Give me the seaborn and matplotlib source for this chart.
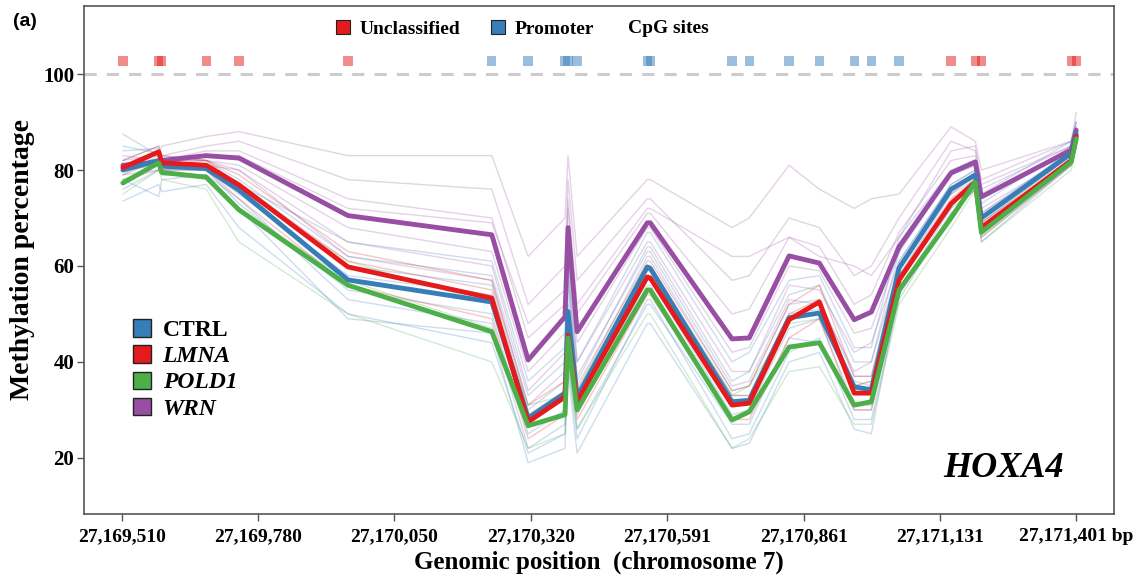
import numpy as np
import pandas as pd
import matplotlib
matplotlib.use("Agg")
import matplotlib.pyplot as plt
import seaborn as sns
from matplotlib.patches import Patch

#================================================================
# CpG sites of HOXA4 (bp, chromosome 7) and region of each site
#================================================================
sites = [27169512, 27169583, 27169589, 27169677, 27169742, 27169958,
         27170243, 27170315, 27170388, 27170394, 27170412, 27170551,
         27170557, 27170719, 27170753, 27170832, 27170892, 27170961,
         27170995, 27171050, 27171153, 27171201, 27171213, 27171391,
         27171401]
regions = ["Unclassified"] * 6 + ["Promoter"] * 14 + ["Unclassified"] * 5

# group means (thick lines)
mean_ctrl = [80.0, 82.0, 80.8, 80.3, 75.8, 57.1, 52.5, 28.3, 33.5, 50.5, 32.7, 59.8, 59.5,
             31.7, 32.0, 49.2, 50.2, 34.8, 34.2, 59.6, 76.0, 79.0, 70.0, 83.5, 87.5]
mean_lmna = [80.5, 83.8, 81.5, 81.0, 76.9, 59.8, 53.3, 27.5, 32.7, 45.5, 31.7, 57.7, 57.5,
             31.0, 31.4, 48.8, 52.5, 33.5, 33.5, 57.1, 73.0, 77.5, 68.0, 82.0, 87.0]
mean_pold1 = [77.3, 81.5, 79.5, 78.5, 71.7, 56.0, 46.3, 26.7, 29.0, 45.0, 30.0, 55.0, 55.0,
              27.9, 29.6, 43.1, 44.0, 31.0, 31.7, 55.0, 70.0, 77.5, 67.0, 81.7, 86.5]
mean_wrn = [81.0, 81.7, 82.0, 83.0, 82.5, 70.5, 66.5, 40.4, 49.4, 68.0, 46.3, 69.0, 69.0,
            44.8, 45.0, 62.1, 60.6, 48.8, 50.4, 64.0, 79.4, 81.7, 74.4, 84.2, 88.3]

# individual samples (thin lines)
ctrl_samples = [
    [87.5, 83, 81, 80, 73, 55, 50, 25, 30, 47, 29, 57, 57, 29, 30, 47, 49, 31, 31, 58, 75, 78, 69, 83, 87],
    [73.5, 77, 75.5, 77, 68, 50, 44, 21, 25, 40, 24, 53, 53, 24, 25, 42, 45, 28, 28, 53, 71, 76, 66, 81, 85],
    [84, 84.5, 83, 82, 78, 62, 58, 33, 40, 58, 36, 64, 64, 36, 38, 54, 56, 40, 40, 63, 79, 81, 73, 85, 89],
    [78, 74.5, 78, 79, 74, 53, 48, 22, 27, 44, 26, 52, 52, 27, 27, 45, 44, 30, 30, 57, 73, 77, 67, 82, 86],
    [82, 85, 82, 81, 77, 60, 56, 30, 36, 55, 34, 62, 62, 34, 35, 52, 53, 37, 37, 61, 77, 80, 71, 84, 88],
    [76, 80, 79, 79, 72, 49, 46, 19, 22, 38, 21, 48, 48, 22, 23, 40, 42, 26, 25, 55, 72, 76, 65, 81, 85],
    [80, 82, 80, 80, 75, 58, 54, 28, 33, 52, 33, 60, 60, 33, 33, 50, 51, 36, 35, 60, 76, 79, 70, 83, 87],
    [85, 83.5, 82, 81, 77, 65, 61, 36, 43, 60, 40, 67, 67, 40, 42, 57, 58, 43, 43, 66, 80, 82, 75, 86, 90],
]
wrn_samples = [
    [82, 83, 85, 87, 88, 83, 83, 62, 70, 83, 62, 78, 78, 68, 70, 81, 76, 72, 74, 75, 89, 86, 80, 86, 92],
    [80, 82, 83, 85, 86, 78, 76, 52, 60, 78, 57, 74, 74, 57, 58, 70, 68, 58, 60, 70, 86, 84, 78, 86, 90],
    [79, 80, 81, 82, 81, 68, 63, 38, 46, 66, 44, 68, 68, 42, 43, 60, 59, 46, 47, 63, 79, 81, 74, 84, 88],
    [81, 81, 82, 84, 84, 74, 70, 45, 52, 72, 50, 71, 71, 50, 51, 66, 64, 52, 54, 67, 82, 83, 76, 85, 89],
    [83, 82, 82, 82, 80, 65, 60, 34, 42, 62, 40, 65, 65, 38, 38, 56, 55, 42, 44, 61, 77, 80, 72, 83, 87],
    [80, 81, 82, 83, 83, 72, 69, 48, 55, 74, 52, 72, 72, 62, 62, 66, 62, 60, 58, 66, 84, 85, 77, 85, 90],
    [78, 80, 80, 81, 80, 62, 57, 31, 38, 58, 37, 63, 63, 35, 36, 53, 52, 38, 40, 60, 76, 79, 71, 83, 87],
]
lmna_samples = [
    [81, 84, 82, 82, 79, 63, 57, 31, 36, 50, 35, 61, 61, 34, 35, 52, 56, 37, 37, 60, 75, 79, 70, 83, 88],
    [79, 82, 80, 80, 74, 56, 49, 24, 29, 41, 28, 54, 54, 28, 28, 45, 49, 30, 30, 54, 71, 76, 66, 81, 86],
    [82, 85, 83, 82, 77, 61, 55, 29, 34, 46, 33, 59, 59, 33, 33, 50, 53, 35, 36, 58, 74, 78, 69, 82, 87],
]
pold1_samples = [
    [75, 80, 78, 76, 65, 50, 40, 22, 25, 40, 26, 50, 50, 22, 24, 38, 39, 27, 27, 52, 68, 76, 65, 80, 85],
    [79, 83, 81, 80, 76, 61, 52, 31, 33, 50, 34, 60, 60, 33, 35, 48, 49, 35, 36, 58, 72, 79, 69, 83, 88],
    [78, 81, 79, 79, 72, 57, 47, 27, 29, 44, 30, 56, 56, 28, 30, 43, 44, 31, 32, 55, 70, 77, 67, 82, 87],
]

groups = ["WRN", "CTRL", "LMNA", "POLD1"]
xticks = [27169510, 27169780, 27170050, 27170320, 27170591, 27170861, 27171131, 27171401]
xticklabels = ["27,169,510", "27,169,780", "27,170,050", "27,170,320", "27,170,591",
               "27,170,861", "27,171,131", "27,171,401 bp"]

colors = {"CTRL": "#377eb8", "LMNA": "#e41a1c", "POLD1": "#4daf4a", "WRN": "#984ea3"}
region_colors = {"Unclassified": "#e41a1c", "Promoter": "#377eb8"}

# long tables for seaborn
rows = []
for g, samples in zip(groups, [wrn_samples, ctrl_samples, lmna_samples, pold1_samples]):
    for i, vals in enumerate(samples):
        for pos, v in zip(sites, vals):
            rows.append((g, g + str(i), pos, v))
df_thin = pd.DataFrame(rows, columns=["group", "sample", "pos", "meth"])

rows = []
for g, vals in zip(groups, [mean_wrn, mean_ctrl, mean_lmna, mean_pold1]):
    for pos, v in zip(sites, vals):
        rows.append((g, pos, v))
df_mean = pd.DataFrame(rows, columns=["group", "pos", "meth"])

df_sites = pd.DataFrame({"pos": sites, "region": regions, "y": 102.7})

#================================================================
sns.set_style("white")
plt.rcParams["font.family"] = ["Liberation Serif", "DejaVu Serif"]
plt.rcParams["font.weight"] = "bold"
for k in ["text.color", "axes.labelcolor", "xtick.color", "ytick.color"]:
    plt.rcParams[k] = "black"

fig, ax = plt.subplots(figsize=(11.45, 5.8), dpi=100)
fig.subplots_adjust(left=0.0734, right=0.973, top=0.9897, bottom=0.1138)

sns.lineplot(data=df_thin, x="pos", y="meth", hue="group", units="sample", estimator=None,
             palette=colors, hue_order=groups, lw=1, alpha=0.25, legend=False, ax=ax, sort=False)
sns.lineplot(data=df_mean, x="pos", y="meth", hue="group", palette=colors, hue_order=groups,
             lw=3.5, legend=False, ax=ax, sort=False)

ax.axhline(100, color="#cccccc", lw=2.2, ls=(0, (4, 3.3)), zorder=0)
sns.scatterplot(data=df_sites, x="pos", y="y", hue="region", palette=region_colors, marker="s",
                s=45, alpha=0.5, edgecolor="none", legend=False, ax=ax)

ax.set_xlim(27169435, 27171476)
ax.set_ylim(8.3, 114.2)
ax.set_yticks([20, 40, 60, 80, 100])
ax.set_yticklabels(["20", "40", "60", "80", "100"], fontsize=15, fontweight="bold")
ax.set_xticks(xticks)
ax.set_xticklabels(xticklabels, fontsize=14, fontweight="bold")
ax.tick_params(axis="x", direction="out", length=5, width=1, color="#555555", pad=5, bottom=True)
ax.tick_params(axis="y", direction="out", length=5, width=1, color="#555555", pad=2, left=True)
for s in ax.spines.values():
    s.set_color("#555555")
    s.set_linewidth(1.2)

ax.set_xlabel("Genomic position  (chromosome 7)", fontsize=18, fontweight="bold", labelpad=4)
ax.set_ylabel("Methylation percentage", fontsize=20, fontweight="bold", labelpad=6)

# top legend for CpG regions
h_top = [Patch(facecolor=region_colors[r], edgecolor="#222222", lw=0.8) for r in ["Unclassified", "Promoter"]]
leg1 = ax.legend(h_top, ["Unclassified", "Promoter"], ncol=2, frameon=False,
                 loc="center", bbox_to_anchor=(0.37, 0.955), fontsize=14,
                 handlelength=0.7, handleheight=0.7, handletextpad=0.5, columnspacing=1.6)
ax.add_artist(leg1)
ax.text(0.5675, 0.955, "CpG sites", transform=ax.transAxes, fontsize=14, fontweight="bold",
        ha="center", va="center")

# group legend
order = ["CTRL", "LMNA", "POLD1", "WRN"]
h_grp = [Patch(facecolor=colors[g], edgecolor="#222222", lw=1) for g in order]
leg2 = ax.legend(h_grp, order, loc="upper left", bbox_to_anchor=(0.027, 0.425), frameon=False,
                 fontsize=17, handlelength=0.75, handleheight=0.75, handletextpad=0.5,
                 labelspacing=0.18)
for t in leg2.get_texts()[1:]:
    t.set_fontstyle("italic")

ax.text(0.951, 0.09, "HOXA4", transform=ax.transAxes, fontsize=26, fontweight="bold",
        fontstyle="italic", ha="right", va="center")
fig.text(0.011, 0.955, "(a)", fontsize=14, fontweight="bold", family="Liberation Sans")

fig.savefig("out.png", dpi=100)
